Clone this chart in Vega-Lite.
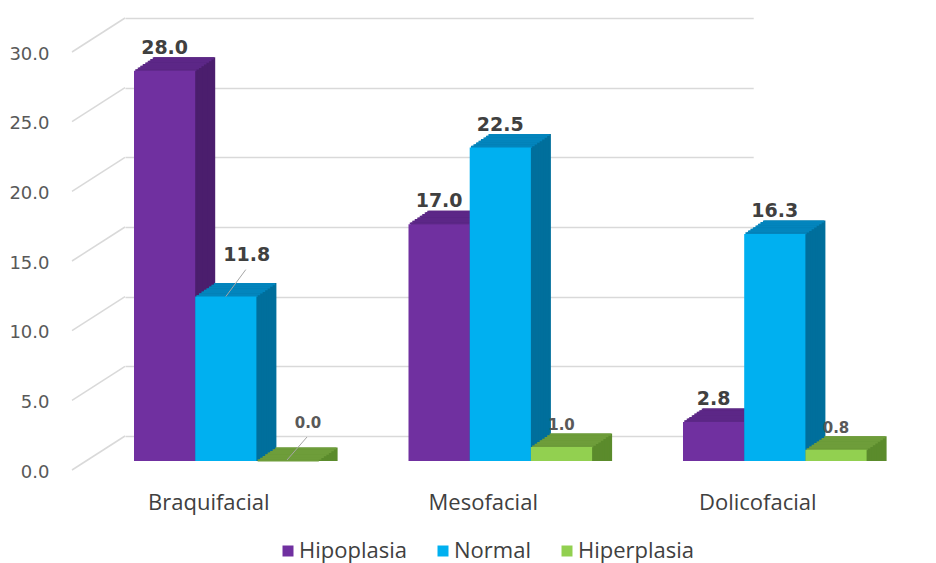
{
  "$schema": "https://vega.github.io/schema/vega-lite/v6.json",
  "autosize": {"type": "none"},
  "padding": {"left": 125, "top": 43, "right": 0, "bottom": 102},
  "width": 811,
  "height": 418,
  "background": "#ffffff",
  "config": {"view": {"stroke": null}},
  "data": {
    "values": [
      {"cat": "Braquifacial", "series": "Hipoplasia", "value": 28.0},
      {"cat": "Braquifacial", "series": "Normal", "value": 11.8},
      {"cat": "Braquifacial", "series": "Hiperplasia", "value": 0.0},
      {"cat": "Mesofacial", "series": "Hipoplasia", "value": 17.0},
      {"cat": "Mesofacial", "series": "Normal", "value": 22.5},
      {"cat": "Mesofacial", "series": "Hiperplasia", "value": 1.0},
      {"cat": "Dolicofacial", "series": "Hipoplasia", "value": 2.8},
      {"cat": "Dolicofacial", "series": "Normal", "value": 16.3},
      {"cat": "Dolicofacial", "series": "Hiperplasia", "value": 0.8}
    ]
  },
  "layer": [
    {
      "description": "left side wall grid lines, from the front edge back to the rear wall",
      "data": {"values": [{"v": 0}, {"v": 5}, {"v": 10}, {"v": 15}, {"v": 20}, {"v": 25}, {"v": 30}]},
      "mark": {"type": "rule", "color": "#d9d9d9", "strokeWidth": 1.5, "xOffset": -62, "x2Offset": -39.6, "yOffset": 9, "y2Offset": -25},
      "encoding": {
        "x": {"datum": "Braquifacial", "type": "nominal", "bandPosition": 0},
        "x2": {"datum": "Braquifacial"},
        "y": {"field": "v", "type": "quantitative"},
        "y2": {"field": "v"}
      }
    },
    {
      "encoding": {
        "x": {
          "field": "cat", "type": "nominal",
          "scale": {"domain": ["Braquifacial", "Mesofacial", "Dolicofacial"], "range": [0, 628.2], "paddingInner": 0.77705, "paddingOuter": 0.03279},
          "axis": {"title": null, "domain": false, "ticks": false, "tickSize": 0, "grid": false, "labelPadding": 41, "labelBaseline": "middle", "labelAlign": "center", "labelOffset": 44.15, "labelAngle": 0, "labelFont": "Open Sans", "labelFontSize": 22, "labelColor": "#404040"}
        },
        "y": {
          "field": "value", "type": "quantitative", "stack": null,
          "scale": {"domain": [0, 30], "nice": false, "zero": true},
          "axis": {"title": null, "values": [0, 5, 10, 15, 20, 25, 30], "format": ".1f", "grid": true, "gridColor": "#d9d9d9", "gridWidth": 1.5, "tickOffset": -25, "labelOffset": 36, "domain": false, "ticks": false, "tickSize": 0, "labelPadding": 0, "offset": 76, "labelFont": "DejaVu Sans", "labelFontSize": 18, "labelColor": "#595959"}
        }
      },
      "layer": [
        {
          "description": "Hipoplasia boxes: side extrusion, top face strips, front face",
          "transform": [{"filter": "datum.series==='Hipoplasia'"}],
          "layer": [
            {"mark": {"type": "bar", "color": "#4b1e6d", "xOffset": 20, "yOffset": -13.5, "y2Offset": -13.5}},
            {"mark": {"type": "bar", "color": "#4b1e6d", "xOffset": 17.5, "yOffset": -11.8125, "y2Offset": -11.8125}},
            {"mark": {"type": "bar", "color": "#4b1e6d", "xOffset": 15, "yOffset": -10.125, "y2Offset": -10.125}},
            {"mark": {"type": "bar", "color": "#4b1e6d", "xOffset": 12.5, "yOffset": -8.4375, "y2Offset": -8.4375}},
            {"mark": {"type": "bar", "color": "#4b1e6d", "xOffset": 10, "yOffset": -6.75, "y2Offset": -6.75}},
            {"mark": {"type": "bar", "color": "#4b1e6d", "xOffset": 7.5, "yOffset": -5.0625, "y2Offset": -5.0625}},
            {"mark": {"type": "bar", "color": "#4b1e6d", "xOffset": 5, "yOffset": -3.375, "y2Offset": -3.375}},
            {"mark": {"type": "bar", "color": "#4b1e6d", "xOffset": 2.5, "yOffset": -1.6875, "y2Offset": -1.6875}},
            {"mark": {"type": "bar", "color": "#5c2787", "xOffset": 18.75, "yOffset": -13.5, "y2Offset": -11.4125}, "encoding": {"y2": {"field": "value"}}},
            {"mark": {"type": "bar", "color": "#5c2787", "xOffset": 16.25, "yOffset": -11.8125, "y2Offset": -9.725}, "encoding": {"y2": {"field": "value"}}},
            {"mark": {"type": "bar", "color": "#5c2787", "xOffset": 13.75, "yOffset": -10.125, "y2Offset": -8.0375}, "encoding": {"y2": {"field": "value"}}},
            {"mark": {"type": "bar", "color": "#5c2787", "xOffset": 11.25, "yOffset": -8.4375, "y2Offset": -6.35}, "encoding": {"y2": {"field": "value"}}},
            {"mark": {"type": "bar", "color": "#5c2787", "xOffset": 8.75, "yOffset": -6.75, "y2Offset": -4.6625}, "encoding": {"y2": {"field": "value"}}},
            {"mark": {"type": "bar", "color": "#5c2787", "xOffset": 6.25, "yOffset": -5.0625, "y2Offset": -2.975}, "encoding": {"y2": {"field": "value"}}},
            {"mark": {"type": "bar", "color": "#5c2787", "xOffset": 3.75, "yOffset": -3.375, "y2Offset": -1.2875}, "encoding": {"y2": {"field": "value"}}},
            {"mark": {"type": "bar", "color": "#5c2787", "xOffset": 1.25, "yOffset": -1.6875, "y2Offset": 0.4}, "encoding": {"y2": {"field": "value"}}},
            {
              "mark": {"type": "bar", "xOffset": 0},
              "encoding": {
                "color": {
                  "field": "series", "type": "nominal",
                  "scale": {"domain": ["Hipoplasia", "Normal", "Hiperplasia"], "range": ["#7030a0", "#00b0f0", "#92d050"]},
                  "legend": {"title": null, "orient": "none", "legendX": 152, "legendY": 497, "direction": "horizontal", "padding": 0, "symbolType": "square", "symbolSize": 121, "symbolStrokeWidth": 0, "labelFont": "Open Sans", "labelFontSize": 22, "labelColor": "#404040", "labelOffset": 0, "columnPadding": 25}
                }
              }
            }
          ]
        },
        {
          "description": "Normal boxes",
          "transform": [{"filter": "datum.series==='Normal'"}],
          "layer": [
            {"mark": {"type": "bar", "color": "#006f9c", "xOffset": 81.2, "yOffset": -13.5, "y2Offset": -13.5}},
            {"mark": {"type": "bar", "color": "#006f9c", "xOffset": 78.7, "yOffset": -11.8125, "y2Offset": -11.8125}},
            {"mark": {"type": "bar", "color": "#006f9c", "xOffset": 76.2, "yOffset": -10.125, "y2Offset": -10.125}},
            {"mark": {"type": "bar", "color": "#006f9c", "xOffset": 73.7, "yOffset": -8.4375, "y2Offset": -8.4375}},
            {"mark": {"type": "bar", "color": "#006f9c", "xOffset": 71.2, "yOffset": -6.75, "y2Offset": -6.75}},
            {"mark": {"type": "bar", "color": "#006f9c", "xOffset": 68.7, "yOffset": -5.0625, "y2Offset": -5.0625}},
            {"mark": {"type": "bar", "color": "#006f9c", "xOffset": 66.2, "yOffset": -3.375, "y2Offset": -3.375}},
            {"mark": {"type": "bar", "color": "#006f9c", "xOffset": 63.7, "yOffset": -1.6875, "y2Offset": -1.6875}},
            {"mark": {"type": "bar", "color": "#0385bd", "xOffset": 79.95, "yOffset": -13.5, "y2Offset": -11.4125}, "encoding": {"y2": {"field": "value"}}},
            {"mark": {"type": "bar", "color": "#0385bd", "xOffset": 77.45, "yOffset": -11.8125, "y2Offset": -9.725}, "encoding": {"y2": {"field": "value"}}},
            {"mark": {"type": "bar", "color": "#0385bd", "xOffset": 74.95, "yOffset": -10.125, "y2Offset": -8.0375}, "encoding": {"y2": {"field": "value"}}},
            {"mark": {"type": "bar", "color": "#0385bd", "xOffset": 72.45, "yOffset": -8.4375, "y2Offset": -6.35}, "encoding": {"y2": {"field": "value"}}},
            {"mark": {"type": "bar", "color": "#0385bd", "xOffset": 69.95, "yOffset": -6.75, "y2Offset": -4.6625}, "encoding": {"y2": {"field": "value"}}},
            {"mark": {"type": "bar", "color": "#0385bd", "xOffset": 67.45, "yOffset": -5.0625, "y2Offset": -2.975}, "encoding": {"y2": {"field": "value"}}},
            {"mark": {"type": "bar", "color": "#0385bd", "xOffset": 64.95, "yOffset": -3.375, "y2Offset": -1.2875}, "encoding": {"y2": {"field": "value"}}},
            {"mark": {"type": "bar", "color": "#0385bd", "xOffset": 62.45, "yOffset": -1.6875, "y2Offset": 0.4}, "encoding": {"y2": {"field": "value"}}},
            {"mark": {"type": "bar", "xOffset": 61.2}, "encoding": {"color": {"field": "series", "type": "nominal"}}}
          ]
        },
        {
          "description": "Hiperplasia boxes",
          "transform": [{"filter": "datum.series==='Hiperplasia'"}],
          "layer": [
            {"mark": {"type": "bar", "color": "#5b8b2c", "xOffset": 142.4, "yOffset": -13.5, "y2Offset": -13.5}},
            {"mark": {"type": "bar", "color": "#5b8b2c", "xOffset": 139.9, "yOffset": -11.8125, "y2Offset": -11.8125}},
            {"mark": {"type": "bar", "color": "#5b8b2c", "xOffset": 137.4, "yOffset": -10.125, "y2Offset": -10.125}},
            {"mark": {"type": "bar", "color": "#5b8b2c", "xOffset": 134.9, "yOffset": -8.4375, "y2Offset": -8.4375}},
            {"mark": {"type": "bar", "color": "#5b8b2c", "xOffset": 132.4, "yOffset": -6.75, "y2Offset": -6.75}},
            {"mark": {"type": "bar", "color": "#5b8b2c", "xOffset": 129.9, "yOffset": -5.0625, "y2Offset": -5.0625}},
            {"mark": {"type": "bar", "color": "#5b8b2c", "xOffset": 127.4, "yOffset": -3.375, "y2Offset": -3.375}},
            {"mark": {"type": "bar", "color": "#5b8b2c", "xOffset": 124.9, "yOffset": -1.6875, "y2Offset": -1.6875}},
            {"mark": {"type": "bar", "color": "#6e9d3a", "xOffset": 141.15, "yOffset": -13.5, "y2Offset": -11.4125}, "encoding": {"y2": {"field": "value"}}},
            {"mark": {"type": "bar", "color": "#6e9d3a", "xOffset": 138.65, "yOffset": -11.8125, "y2Offset": -9.725}, "encoding": {"y2": {"field": "value"}}},
            {"mark": {"type": "bar", "color": "#6e9d3a", "xOffset": 136.15, "yOffset": -10.125, "y2Offset": -8.0375}, "encoding": {"y2": {"field": "value"}}},
            {"mark": {"type": "bar", "color": "#6e9d3a", "xOffset": 133.65, "yOffset": -8.4375, "y2Offset": -6.35}, "encoding": {"y2": {"field": "value"}}},
            {"mark": {"type": "bar", "color": "#6e9d3a", "xOffset": 131.15, "yOffset": -6.75, "y2Offset": -4.6625}, "encoding": {"y2": {"field": "value"}}},
            {"mark": {"type": "bar", "color": "#6e9d3a", "xOffset": 128.65, "yOffset": -5.0625, "y2Offset": -2.975}, "encoding": {"y2": {"field": "value"}}},
            {"mark": {"type": "bar", "color": "#6e9d3a", "xOffset": 126.15, "yOffset": -3.375, "y2Offset": -1.2875}, "encoding": {"y2": {"field": "value"}}},
            {"mark": {"type": "bar", "color": "#6e9d3a", "xOffset": 123.65, "yOffset": -1.6875, "y2Offset": 0.4}, "encoding": {"y2": {"field": "value"}}},
            {"mark": {"type": "bar", "xOffset": 122.4}, "encoding": {"color": {"field": "series", "type": "nominal"}}}
          ]
        },
        {
          "description": "leader line for the Normal label that sits beside its bar",
          "transform": [{"filter": "datum.cat==='Braquifacial' && datum.series==='Normal'"}],
          "mark": {"type": "rule", "color": "#a6a6a6", "strokeWidth": 1, "xOffset": 61.2, "x2Offset": 81.2, "yOffset": 0, "y2Offset": -27},
          "encoding": {"x2": {"field": "cat"}, "y2": {"field": "value"}}
        },
        {
          "description": "leader line for the zero Hiperplasia label",
          "transform": [{"filter": "datum.cat==='Braquifacial' && datum.series==='Hiperplasia'"}],
          "mark": {"type": "rule", "color": "#a6a6a6", "strokeWidth": 1, "xOffset": 122.4, "x2Offset": 142.4, "yOffset": -1, "y2Offset": -24},
          "encoding": {"x2": {"field": "cat"}, "y2": {"field": "value"}}
        },
        {
          "transform": [{"filter": "datum.series==='Hipoplasia'"}],
          "mark": {"type": "text", "font": "DejaVu Sans", "fontWeight": "bold", "fontSize": 19, "color": "#404040", "baseline": "middle", "xOffset": 0, "dy": -23},
          "encoding": {"text": {"field": "value", "type": "quantitative", "format": ".1f"}}
        },
        {
          "transform": [{"filter": "datum.series==='Normal' && datum.cat!=='Braquifacial'"}],
          "mark": {"type": "text", "font": "DejaVu Sans", "fontWeight": "bold", "fontSize": 19, "color": "#404040", "baseline": "middle", "xOffset": 61.2, "dy": -23},
          "encoding": {"text": {"field": "value", "type": "quantitative", "format": ".1f"}}
        },
        {
          "transform": [{"filter": "datum.series==='Normal' && datum.cat==='Braquifacial'"}],
          "mark": {"type": "text", "font": "DejaVu Sans", "fontWeight": "bold", "fontSize": 19, "color": "#404040", "baseline": "middle", "xOffset": 82.2, "dy": -42},
          "encoding": {"text": {"field": "value", "type": "quantitative", "format": ".1f"}}
        },
        {
          "transform": [{"filter": "datum.series==='Hiperplasia' && datum.cat!=='Braquifacial'"}],
          "mark": {"type": "text", "font": "DejaVu Sans", "fontWeight": "bold", "fontSize": 15, "color": "#595959", "baseline": "middle", "xOffset": 122.4, "dy": -22},
          "encoding": {"text": {"field": "value", "type": "quantitative", "format": ".1f"}}
        },
        {
          "transform": [{"filter": "datum.series==='Hiperplasia' && datum.cat==='Braquifacial'"}],
          "mark": {"type": "text", "font": "DejaVu Sans", "fontWeight": "bold", "fontSize": 15, "color": "#595959", "baseline": "middle", "xOffset": 143.4, "dy": -38},
          "encoding": {"text": {"field": "value", "type": "quantitative", "format": ".1f"}}
        }
      ]
    }
  ]
}
